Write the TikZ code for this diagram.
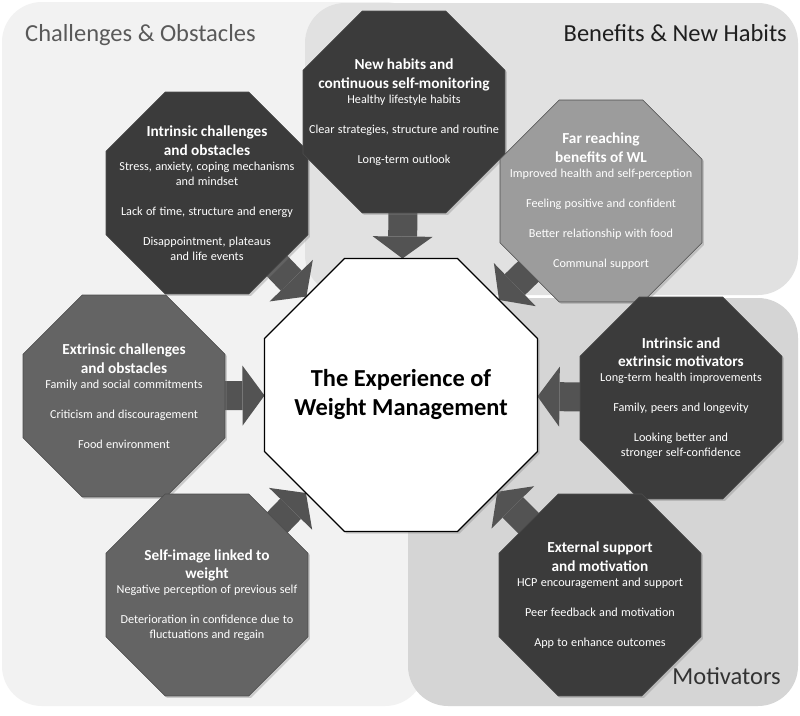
\documentclass[tikz,border=0pt]{standalone}
\usepackage{fontspec}
\setmainfont{Carlito}
\usetikzlibrary{shapes.geometric,arrows.meta,shadows}
\pgfdeclarelayer{bg}
\pgfdeclarelayer{arr}
\pgfsetlayers{bg,arr,main}
\definecolor{regleft}{HTML}{F2F2F2}
\definecolor{regben}{HTML}{E1E1E1}
\definecolor{regmot}{HTML}{D5D5D5}
\definecolor{octdark}{HTML}{3B3B3B}
\definecolor{octmid}{HTML}{646464}
\definecolor{octlight}{HTML}{9C9C9C}
\definecolor{arrowgray}{HTML}{535353}
\newcommand{\octtext}[2]{{\fontsize{15.3}{18.5}\selectfont\bfseries #1\par}{\fontsize{12.2}{15}\selectfont #2\par}}
\begin{document}
\begin{tikzpicture}[x=1pt,y=-1pt,
  oct/.style={regular polygon, regular polygon sides=8, minimum size=218.6pt,
    inner sep=0pt, outer sep=0pt, draw=black!70, line width=0.6pt,
    drop shadow={opacity=0.35,shadow xshift=2pt,shadow yshift=-2pt}},
  octlabel/.style={text=white, text width=200pt, align=center, inner sep=0pt},
  bigarrow/.style={draw=arrowgray, line width=29pt,
    -{Triangle[width=60pt,length=22pt,line width=0pt]}},
  region/.style={rounded corners=40pt},
  regtitle/.style={font=\fontsize{24.5}{28}\selectfont, inner sep=0pt}]
\useasboundingbox (0,0) rectangle (800,715);

\begin{pgfonlayer}{bg}
  \fill[white] (0,0) rectangle (800,715);
  \fill[regleft, region] (2,2) rectangle (425,706);
  \fill[regben, region] (305,3) rectangle (798,295);
  \fill[regmot, region] (408,298) rectangle (798,706);
\end{pgfonlayer}

\node[regtitle, text=black!65, anchor=base west] (t1) at (25,41) {Challenges \& Obstacles};
\node[regtitle, text=black!88, anchor=base east] (t2) at (787,41) {Benefits \& New Habits};
\node[regtitle, text=black!80, anchor=base east] (t3) at (781,684) {Motivators};

% center
\node[oct, minimum size=295.5pt, fill=white, draw=black, line width=1.3pt] (c) at (401,395) {};
\node[font=\fontsize{24.4}{29}\selectfont\bfseries, align=center] (ctext) at (c) {The Experience of\\Weight Management};

% surrounding octagons
\node[oct, fill=octdark] (intr) at (207,193) {};
\node[octlabel] (intrt) at (intr) {\octtext{Intrinsic challenges\\and obstacles}{Stress, anxiety, coping mechanisms\\and mindset\\[15pt]Lack of time, structure and energy\\[15pt]Disappointment, plateaus\\and life events}};

\node[oct, fill=octdark] (top) at (404,112) {};
\node[octlabel] (topt) at (top) {\octtext{New habits and\\continuous self-monitoring}{Healthy lifestyle habits\\[15pt]Clear strategies, structure and routine\\[15pt]Long-term outlook}};

\node[oct, fill=octlight] (far) at (601,201) {};
\node[octlabel] (fart) at (far) {\octtext{Far reaching\\benefits of WL}{Improved health and self-perception\\[15pt]Feeling positive and confident\\[15pt]Better relationship with food\\[15pt]Communal support}};

\node[oct, fill=octmid] (ext) at (124,396) {};
\node[octlabel] (extt) at (ext) {\octtext{Extrinsic challenges\\and obstacles}{Family and social commitments\\[15pt]Criticism and discouragement\\[15pt]Food environment}};

\node[oct, fill=octdark] (mot) at (681,398) {};
\node[octlabel] (mott) at (mot) {\octtext{Intrinsic and\\extrinsic motivators}{Long-term health improvements\\[15pt]Family, peers and longevity\\[15pt]Looking better and\\stronger self-confidence}};

\node[oct, fill=octmid] (self) at (207,595) {};
\node[octlabel] (selft) at (self) {\octtext{Self-image linked to\\weight}{Negative perception of previous self\\[15pt]Deterioration in confidence due to\\fluctuations and regain}};

\node[oct, fill=octdark] (sup) at (600,595) {};
\node[octlabel] (supt) at (sup) {\octtext{External support\\and motivation}{HCP encouragement and support\\[15pt]Peer feedback and motivation\\[15pt]App to enhance outcomes}};

\begin{pgfonlayer}{arr}
  \draw[bigarrow] (top.center) -- (c);
  \draw[bigarrow] (intr.center) -- (c);
  \draw[bigarrow] (far.center) -- (c);
  \draw[bigarrow] (ext.center) -- (c);
  \draw[bigarrow] (mot.center) -- (c);
  \draw[bigarrow] (self.center) -- (c);
  \draw[bigarrow] (sup.center) -- (c);
\end{pgfonlayer}
\end{tikzpicture}
\end{document}
